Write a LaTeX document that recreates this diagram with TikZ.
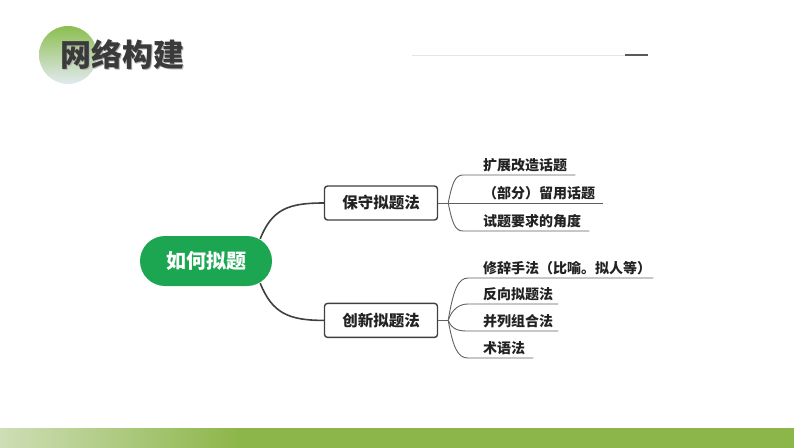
\documentclass[tikz,border=0pt]{standalone}
\usepackage{fontspec}
\newfontfamily\cjk{Noto Sans CJK SC}
\usetikzlibrary{positioning}
\usepackage{xcolor}
\definecolor{rootgreen}{RGB}{28,166,82}
\definecolor{linegray}{RGB}{64,64,64}
\definecolor{twiggray}{RGB}{96,96,96}
\definecolor{textgray}{RGB}{34,34,34}
\definecolor{titlegray}{RGB}{58,58,58}
\definecolor{titlegreen}{RGB}{140,190,80}
\definecolor{titleblue}{RGB}{226,234,240}
\definecolor{bargreen}{RGB}{141,182,74}
\definecolor{barpale}{RGB}{206,222,182}
\pgfdeclarehorizontalshading{barfade}{100bp}{color(0bp)=(barpale); color(25bp)=(barpale); color(40bp)=(bargreen); color(100bp)=(bargreen)}
\newcommand{\shadowtext}[1]{\rlap{\hspace{1.5pt}\raisebox{-1.5pt}{\textcolor{black!30}{#1}}}#1}

\begin{document}
\begin{tikzpicture}[x=1pt,y=-1pt,
rootnode/.style={rectangle, rounded corners=25pt, fill=rootgreen, text=white, minimum width=132pt, minimum height=50pt, font=\cjk\bfseries\fontsize{20}{20}\selectfont},
branchbox/.style={rectangle, rounded corners=3pt, draw=linegray, fill=white, line width=1.4pt, minimum width=113pt, minimum height=34pt, text=textgray, font=\cjk\bfseries\fontsize{15.5}{16}\selectfont},
leafnode/.style={anchor=south west, inner xsep=0pt, inner ysep=3pt, text=textgray, font=\cjk\bfseries\fontsize{14}{14}\selectfont},
titletext/.style={text=titlegray, font=\cjk\bfseries\fontsize{31}{31}\selectfont},
trunk/.style={draw=linegray, line width=1.6pt},
twig/.style={draw=twiggray, line width=0.9pt},
]
\useasboundingbox (0,0) rectangle (794,447);

%Background
%%% Titulo
\shade[top color=titlegreen, bottom color=titleblue] (68,55) circle (29);
\node[titletext] (title) at (122,55) {\shadowtext{网络构建}};

%%% Regla superior
\coordinate (ruleL) at (412,55);
\coordinate (ruleM) at (625,55);
\coordinate (ruleR) at (648,55);
\draw[black!10, line width=1pt] (ruleL) -- (ruleM);
\draw[black!65, line width=2pt] (ruleM) -- (ruleR);

%%% Banda inferior
\shade[shading=barfade] (0,428) rectangle (794,447);

%Nodes
%%% Raiz
\node[rootnode]      (root)       at (206,261) {如何拟题};

%%% Ramas
\node[branchbox]     (conservative) at (381,203) {保守拟题法};
\node[branchbox]     (creative)     [below=82pt of conservative] {创新拟题法};

\coordinate (forkA) at ([xshift=10pt]conservative.east);
\coordinate (forkB) at ([xshift=10pt]creative.east);

%%% Hojas rama conservadora
\node[leafnode]      (leafAuno)   at (483,175) {扩展改造话题};
\node[leafnode]      (leafAdos)   at (483,203) {（部分）留用话题};
\node[leafnode]      (leafAtres)  at (483,231) {试题要求的角度};

%%% Hojas rama creativa
\node[leafnode]      (leafBuno)   at (483,278) {修辞手法（比喻。拟人等）};
\node[leafnode]      (leafBdos)   at (483,304) {反向拟题法};
\node[leafnode]      (leafBtres)  at (483,331) {并列组合法};
\node[leafnode]      (leafBcuatro) at (483,358) {术语法};

%Lines
%%% Raiz a ramas
\draw[trunk] ([xshift=-12pt,yshift=-3pt]root.north east) .. controls +(12,-30) and +(-35,0) .. (conservative.west);
\draw[trunk] ([xshift=-12pt,yshift=3pt]root.south east) .. controls +(12,30) and +(-35,0) .. (creative.west);

%%% Ramas a hojas
\draw[twig] (conservative.east) -- (forkA);
\draw[twig] (forkA) .. controls +(4,-20) and +(-8,0) .. ([xshift=-20pt]leafAuno.south west) -- ([xshift=8pt]leafAuno.south east);
\draw[twig] (forkA) -- ([xshift=8pt]leafAdos.south east);
\draw[twig] (forkA) .. controls +(4,20) and +(-8,0) .. ([xshift=-20pt]leafAtres.south west) -- ([xshift=8pt]leafAtres.south east);

\draw[twig] (creative.east) -- (forkB);
\draw[twig] (forkB) .. controls +(5,-30) and +(-10,0) .. ([xshift=-15pt]leafBuno.south west) -- ([xshift=2pt]leafBuno.south east);
\draw[twig] (forkB) .. controls +(4,-12) and +(-8,0) .. ([xshift=-15pt]leafBdos.south west) -- ([xshift=5pt]leafBdos.south east);
\draw[twig] (forkB) .. controls +(4,10) and +(-8,0) .. ([xshift=-15pt]leafBtres.south west) -- ([xshift=5pt]leafBtres.south east);
\draw[twig] (forkB) .. controls +(5,28) and +(-10,0) .. ([xshift=-15pt]leafBcuatro.south west) -- ([xshift=8pt]leafBcuatro.south east);

\end{tikzpicture}
\end{document}
